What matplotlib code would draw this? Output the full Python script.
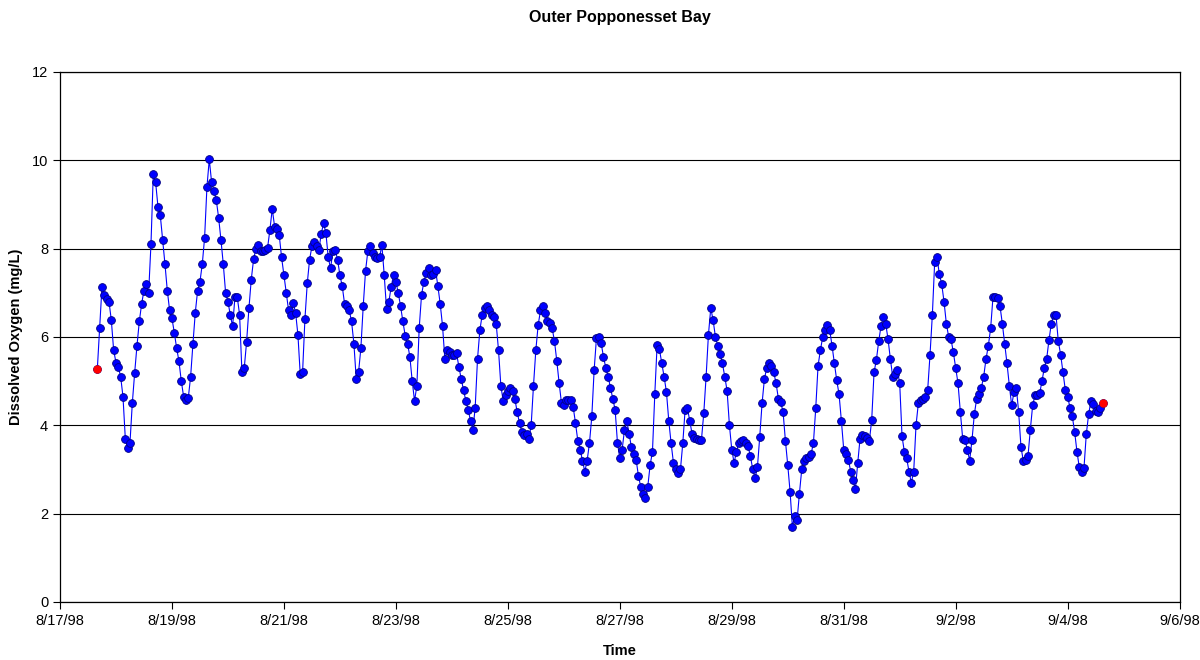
"""
Dissolved oxygen record, Outer Popponesset Bay, August-September 1998.
"""

from datetime import datetime, timedelta

import matplotlib
matplotlib.use('Agg')
import matplotlib.pyplot as plt
import matplotlib.dates as mdates
from matplotlib.ticker import FuncFormatter, MultipleLocator

plt.rcParams['font.family'] = ['Liberation Sans', 'DejaVu Sans']

# hourly readings (mg/L), first reading 8/17/98 16:00
do_0817 = [5.27, 6.2, 7.14, 6.95, 6.85, 6.8, 6.38, 5.7]
do_0818 = [5.42, 5.32, 5.1, 4.65, 3.7, 3.48, 3.6, 4.5, 5.18, 5.8, 6.35, 6.75,
           7.05, 7.2, 7.0, 8.1, 9.7, 9.5, 8.95, 8.75, 8.2, 7.65, 7.05, 6.6]
do_0819 = [6.42, 6.1, 5.75, 5.45, 5.0, 4.65, 4.57, 4.62, 5.1, 5.85, 6.55, 7.05,
           7.25, 7.65, 8.25, 9.4, 10.02, 9.5, 9.3, 9.1, 8.7, 8.2, 7.65, 7.0]
do_0820 = [6.8, 6.5, 6.24, 6.9, 6.9, 6.5, 5.2, 5.3, 5.89, 6.65, 7.3, 7.76,
           8.0, 8.08, 7.95, 7.95, 7.97, 8.02, 8.43, 8.9, 8.5, 8.45, 8.3, 7.8]
do_0821 = [7.4, 7.0, 6.6, 6.5, 6.76, 6.55, 6.05, 5.15, 5.2, 6.4, 7.21, 7.75,
           8.05, 8.16, 8.05, 7.97, 8.34, 8.57, 8.35, 7.8, 7.55, 7.95, 7.97, 7.75]
do_0822 = [7.4, 7.15, 6.75, 6.7, 6.6, 6.35, 5.85, 5.05, 5.2, 5.75, 6.7, 7.5,
           7.95, 8.05, 7.9, 7.8, 7.78, 7.8, 8.08, 7.4, 6.63, 6.8, 7.14, 7.4]
do_0823 = [7.25, 7.0, 6.7, 6.35, 6.03, 5.85, 5.55, 5.0, 4.55, 4.9, 6.2, 6.95,
           7.25, 7.45, 7.55, 7.4, 7.42, 7.52, 7.15, 6.75, 6.25, 5.5, 5.7, 5.65]
do_0824 = [5.6, 5.6, 5.63, 5.33, 5.05, 4.8, 4.55, 4.35, 4.1, 3.89, 4.4, 5.5,
           6.15, 6.5, 6.65, 6.7, 6.6, 6.5, 6.45, 6.3, 5.7, 4.9, 4.55, 4.68]
do_0825 = [4.78, 4.84, 4.78, 4.6, 4.3, 4.05, 3.85, 3.78, 3.8, 3.7, 4.0, 4.9,
           5.7, 6.27, 6.6, 6.7, 6.55, 6.35, 6.31, 6.2, 5.9, 5.45, 4.95, 4.5]
do_0826 = [4.45, 4.57, 4.57, 4.57, 4.42, 4.05, 3.65, 3.45, 3.2, 2.95, 3.2, 3.6,
           4.2, 5.25, 5.98, 6.0, 5.86, 5.55, 5.3, 5.1, 4.85, 4.6, 4.35, 3.6]
do_0827 = [3.25, 3.45, 3.89, 4.1, 3.8, 3.5, 3.35, 3.22, 2.85, 2.6, 2.45, 2.35,
           2.61, 3.1, 3.4, 4.7, 5.82, 5.72, 5.4, 5.1, 4.75, 4.1, 3.59, 3.15]
do_0828 = [3.0, 2.91, 3.0, 3.59, 4.35, 4.38, 4.1, 3.8, 3.72, 3.7, 3.67, 3.67,
           4.27, 5.1, 6.05, 6.65, 6.38, 6.0, 5.8, 5.62, 5.4, 5.1, 4.78, 4.0]
do_0829 = [3.45, 3.15, 3.4, 3.6, 3.65, 3.67, 3.6, 3.52, 3.3, 3.0, 2.8, 3.05,
           3.74, 4.5, 5.05, 5.3, 5.4, 5.35, 5.2, 4.95, 4.6, 4.52, 4.3, 3.65]
do_0830 = [3.1, 2.5, 1.7, 1.95, 1.85, 2.45, 3.0, 3.2, 3.25, 3.28, 3.35, 3.59,
           4.38, 5.35, 5.7, 6.0, 6.15, 6.27, 6.15, 5.8, 5.4, 5.02, 4.7, 4.1]
do_0831 = [3.45, 3.35, 3.22, 2.95, 2.75, 2.55, 3.14, 3.7, 3.78, 3.76, 3.72, 3.65,
           4.12, 5.2, 5.48, 5.9, 6.25, 6.46, 6.3, 5.95, 5.5, 5.1, 5.15, 5.25]
do_0901 = [4.95, 3.75, 3.4, 3.25, 2.95, 2.7, 2.95, 4.0, 4.5, 4.57, 4.6, 4.65,
           4.8, 5.6, 6.5, 7.7, 7.8, 7.42, 7.2, 6.8, 6.3, 6.0, 5.95, 5.65]
do_0902 = [5.3, 4.95, 4.3, 3.7, 3.67, 3.45, 3.2, 3.67, 4.25, 4.6, 4.7, 4.85,
           5.1, 5.5, 5.8, 6.2, 6.91, 6.91, 6.88, 6.7, 6.3, 5.85, 5.4, 4.9]
do_0903 = [4.45, 4.75, 4.85, 4.3, 3.5, 3.2, 3.22, 3.3, 3.9, 4.45, 4.68, 4.68,
           4.72, 5.0, 5.3, 5.5, 5.93, 6.3, 6.5, 6.5, 5.9, 5.6, 5.2, 4.8]
do_0904 = [4.65, 4.4, 4.2, 3.85, 3.4, 3.05, 2.95, 3.03, 3.8, 4.25, 4.55, 4.48,
           4.32, 4.3, 4.38, 4.5]

full_days = [do_0818, do_0819, do_0820, do_0821, do_0822, do_0823, do_0824,
             do_0825, do_0826, do_0827, do_0828, do_0829, do_0830, do_0831,
             do_0901, do_0902, do_0903]
for day in full_days:
    assert len(day) == 24, len(day)

do = do_0817 + sum(full_days, []) + do_0904
start = datetime(1998, 8, 17, 16)
times = [start + timedelta(hours=i) for i in range(len(do))]


def fmt_date(x, pos=None):
    d = mdates.num2date(x)
    return '%d/%d/%02d' % (d.month, d.day, d.year % 100)


fig = plt.figure(figsize=(12, 6.6), dpi=100)
ax = fig.add_axes([0.05, 0.088, 0.933, 0.803])

ax.plot(times, do, '-', color='#0000ff', lw=0.8, marker='o', ms=5.6,
        mfc='#0000ff', mec='#000080', mew=0.6, zorder=3)
# first and last readings highlighted
ax.plot([times[0], times[-1]], [do[0], do[-1]], 'o', ms=5, color='#ff0000',
        mec='#ff0000', zorder=4)

ax.set_xlim(datetime(1998, 8, 17), datetime(1998, 9, 6))
ax.set_ylim(0, 12)
ax.xaxis.set_major_locator(mdates.DayLocator(interval=2))
ax.xaxis.set_major_formatter(FuncFormatter(fmt_date))
ax.yaxis.set_major_locator(MultipleLocator(2))

ax.grid(axis='y', color='black', lw=0.8)
ax.set_axisbelow(True)
for sp in ax.spines.values():
    sp.set_linewidth(0.9)
ax.tick_params(direction='out', length=5, width=0.8, labelsize=10.5,
               colors='black')

ax.set_title('Outer Popponesset Bay', fontsize=11.5, fontweight='bold',
             pad=36)
ax.set_xlabel('Time', fontsize=10.5, fontweight='bold', labelpad=12)
ax.set_ylabel('Dissolved Oxygen (mg/L)', fontsize=10.5, fontweight='bold',
              labelpad=6)

fig.savefig('out.png', dpi=100)
